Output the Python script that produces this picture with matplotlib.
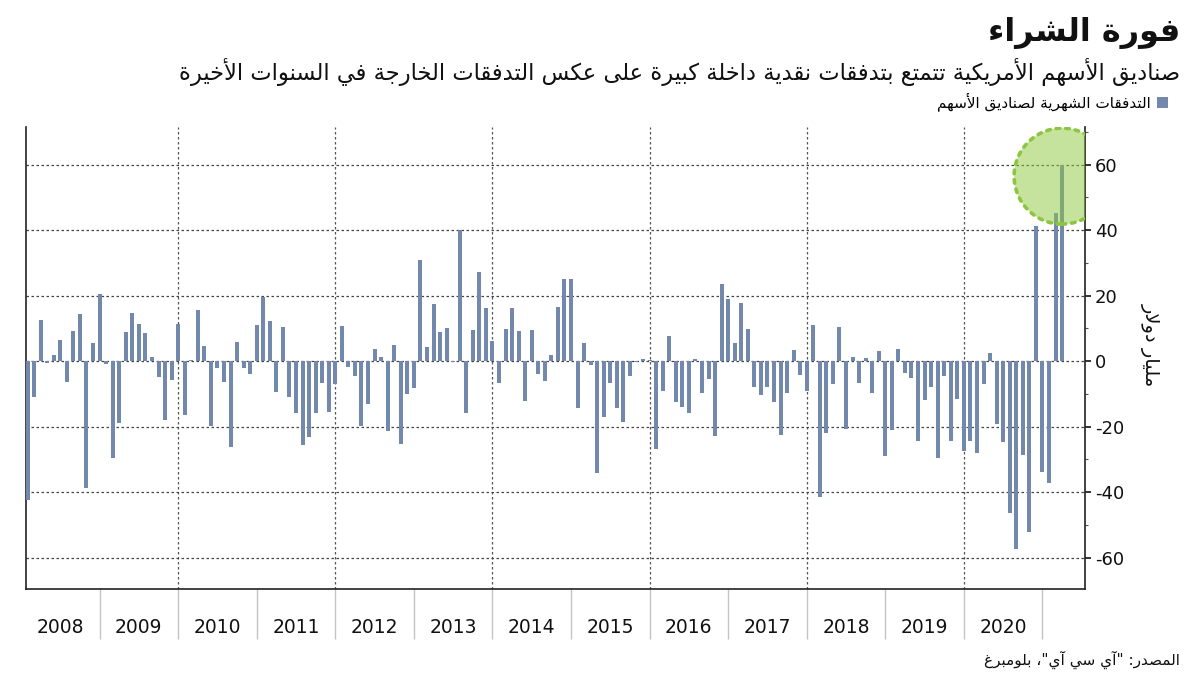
"""
US equity fund flows - monthly bar chart (Arabic labels)
"""

import numpy as np
import matplotlib

matplotlib.use("Agg")
import matplotlib.pyplot as plt
from matplotlib.ticker import MultipleLocator, NullFormatter, FixedFormatter

# Monthly flows, billion USD, Jan 2008 - Mar 2021
flows_2008 = [-42.4, -10.9, 12.6, -0.7, 2.0, 6.4, -6.5, 9.1, 14.3, -38.9, 5.6, 20.4]
flows_2009 = [-1.0, -29.7, -19.0, 8.9, 14.6, 11.2, 8.5, 1.2, -4.9, -18.1, -5.7, 11.2]
flows_2010 = [-16.5, 0.2, 15.6, 4.6, -19.7, -2.2, -6.3, -26.1, 5.9, -2.2, -3.8, 10.9]
flows_2011 = [19.6, 12.3, -9.4, 10.4, -10.9, -16.0, -25.6, -23.1, -16.0, -6.6, -15.5, -7.0]
flows_2012 = [10.7, -1.7, -4.5, -19.8, -13.2, 3.6, 1.3, -21.4, 4.9, -25.3, -10.0, -8.3]
flows_2013 = [30.8, 4.2, 17.4, 9.0, 10.2, -0.3, 40.0, -15.7, 9.5, 27.1, 16.3, 6.2]
flows_2014 = [-6.6, 9.8, 16.2, 9.1, -12.2, 9.5, -3.8, -6.1, 2.0, 16.5, 25.2, 25.2]
flows_2015 = [-14.2, 5.6, -1.2, -34.3, -17.0, -6.6, -14.4, -18.5, -4.5, -0.3, 0.7, 0.4]
flows_2016 = [-26.9, -9.0, 7.6, -12.4, -13.9, -15.7, 0.5, -9.7, -5.6, -22.9, 23.4, 19.0]
flows_2017 = [5.4, 17.8, 9.8, -8.0, -10.4, -7.8, -12.4, -22.6, -9.6, 3.3, -4.3, -9.0]
flows_2018 = [10.9, -41.4, -22.1, -7.1, 10.4, -20.8, 1.2, -6.6, 0.8, -9.6, 3.0, -28.9]
flows_2019 = [-21.1, 3.8, -3.5, -5.3, -24.4, -11.9, -7.8, -29.7, -4.5, -24.4, -11.7, -27.4]
flows_2020 = [-24.4, -28.0, -7.1, 2.6, -19.2, -24.6, -46.3, -57.4, -28.8, -52.1, 41.2, -33.8]
flows_2021 = [-37.1, 45.3, 60.0]

year_labels = [str(y) for y in range(2008, 2021)]
y_ticks = [-60, -40, -20, 0, 20, 40, 60]

TITLE = "فورة الشراء"
SUBTITLE = "صناديق الأسهم الأمريكية تتمتع بتدفقات نقدية داخلة كبيرة على عكس التدفقات الخارجة في السنوات الأخيرة"
LEGEND_LABEL = "التدفقات الشهرية لصناديق الأسهم"
Y_LABEL = "مليار دولار"
SOURCE = 'المصدر: "آي سي آي"، بلومبرغ'

BAR_COLOR = "#7289ad"
HIGHLIGHT_FILL = (140 / 255, 200 / 255, 60 / 255, 0.5)
HIGHLIGHT_EDGE = "#8cc63f"

# Arabic presentation forms (matplotlib does no shaping / bidi itself)
AR_FORMS = {
    "ء": 0xFE80, "آ": 0xFE81, "أ": 0xFE83, "ؤ": 0xFE85, "إ": 0xFE87, "ئ": 0xFE89,
    "ا": 0xFE8D, "ب": 0xFE8F, "ة": 0xFE93, "ت": 0xFE95, "ث": 0xFE99, "ج": 0xFE9D,
    "ح": 0xFEA1, "خ": 0xFEA5, "د": 0xFEA9, "ذ": 0xFEAB, "ر": 0xFEAD, "ز": 0xFEAF,
    "س": 0xFEB1, "ش": 0xFEB5, "ص": 0xFEB9, "ض": 0xFEBD, "ط": 0xFEC1, "ظ": 0xFEC5,
    "ع": 0xFEC9, "غ": 0xFECD, "ف": 0xFED1, "ق": 0xFED5, "ك": 0xFED9, "ل": 0xFEDD,
    "م": 0xFEE1, "ن": 0xFEE5, "ه": 0xFEE9, "و": 0xFEED, "ى": 0xFEEF, "ي": 0xFEF1,
}
RIGHT_ONLY = set("ءآأؤإاةدذرزوى")
LAM_ALEF = {"آ": 0xFEF5, "أ": 0xFEF7, "إ": 0xFEF9, "ا": 0xFEFB}


def shape_arabic(text):
    """Join Arabic letters into contextual forms and reverse for RTL display"""
    chars = list(text)
    n = len(chars)
    out = []
    i = 0
    while i < n:
        c = chars[i]
        if c not in AR_FORMS:
            out.append(c)
            i += 1
            continue
        prev = chars[i - 1] if i > 0 else ""
        join_prev = prev in AR_FORMS and prev not in RIGHT_ONLY
        if c == "ل" and i + 1 < n and chars[i + 1] in LAM_ALEF:
            out.append(chr(LAM_ALEF[chars[i + 1]] + (1 if join_prev else 0)))
            i += 2
            continue
        nxt = chars[i + 1] if i + 1 < n else ""
        join_next = c not in RIGHT_ONLY and nxt in AR_FORMS and nxt != "ء"
        base = AR_FORMS[c]
        if c == "ء":
            form = 0
        elif c in RIGHT_ONLY:
            form = 1 if join_prev else 0
        elif join_prev and join_next:
            form = 3
        elif join_next:
            form = 2
        elif join_prev:
            form = 1
        else:
            form = 0
        out.append(chr(base + form))
        i += 1
    return "".join(reversed(out))


plt.rcParams["font.family"] = ["DejaVu Sans"]
plt.rcParams["axes.unicode_minus"] = False

flows = np.array(
    flows_2008 + flows_2009 + flows_2010 + flows_2011 + flows_2012 + flows_2013
    + flows_2014 + flows_2015 + flows_2016 + flows_2017 + flows_2018 + flows_2019
    + flows_2020 + flows_2021
)
# bars sit at month end, in months since 1 Jan 2008
x = np.arange(1, len(flows) + 1)

fig = plt.figure(figsize=(12, 6.75), dpi=100)
ax = fig.add_axes([25.6 / 1200, 86 / 675, (1085 - 25.6) / 1200, (589 - 127) / 675])

ax.bar(x, flows, width=0.61, color=BAR_COLOR, zorder=3, label=shape_arabic(LEGEND_LABEL))

ax.set_xlim(0.7, 162.5)
ax.set_ylim(-69.6, 71.5)

# highlight on the latest month
hl = ax.scatter(
    [x[-1]], [flows[-1] - 3.5], s=4775, facecolor=HIGHLIGHT_FILL,
    edgecolor=HIGHLIGHT_EDGE, linewidth=2.6, linestyle=":", zorder=4,
)
hl.set_capstyle("round")

# spines
ax.spines["top"].set_visible(False)
for side in ["left", "right", "bottom"]:
    ax.spines[side].set_color("#222222")
    ax.spines[side].set_linewidth(1.2)

# y axis on the right
ax.yaxis.tick_right()
ax.set_yticks(y_ticks)
ax.yaxis.set_minor_locator(MultipleLocator(10))
ax.tick_params(axis="y", which="major", direction="out", length=4, width=1.2,
               labelsize=13, pad=3, colors="#111111")
ax.tick_params(axis="y", which="minor", direction="out", length=2.5, width=0.8,
               colors="#555555")
ax.yaxis.grid(True, which="major", linestyle=(0, (2, 2)), color="#444444",
              linewidth=0.9, zorder=1)

# every second year a dotted vertical line
for xv in range(24, len(flows), 24):
    ax.axvline(xv, color="#555555", linestyle=(0, (2, 2)), linewidth=0.9, zorder=1)

# x axis: long separators at year boundaries, year names in between
ax.set_xticks(np.arange(12, len(flows), 12))
ax.xaxis.set_major_formatter(NullFormatter())
ax.set_xticks(np.arange(6, 6 + 12 * len(year_labels), 12), minor=True)
ax.xaxis.set_minor_formatter(FixedFormatter(year_labels))
ax.tick_params(axis="x", which="major", direction="out", length=36, width=1,
               color="#c4c4c4")
ax.tick_params(axis="x", which="minor", length=0, pad=21, labelsize=13.5,
               labelcolor="#111111")

# titles
fig.text(1180 / 1200, 1 - 33 / 675, shape_arabic(TITLE), ha="right", va="center",
         fontsize=23, fontweight="bold", color="#111111")
fig.text(1180 / 1200, 1 - 72 / 675, shape_arabic(SUBTITLE), ha="right", va="center",
         fontsize=16.3, color="#111111")
fig.text(1150 / 1200, 1 - 345 / 675, shape_arabic(Y_LABEL), rotation=270,
         ha="center", va="center", fontsize=14, color="#111111")
fig.text(1180 / 1200, 1 - 660 / 675, shape_arabic(SOURCE), ha="right", va="center",
         fontsize=11, color="#111111")

ax.legend(loc="center right", bbox_to_anchor=(1168 / 1200, 1 - 102 / 675),
          bbox_transform=fig.transFigure, frameon=False, markerfirst=False,
          handlelength=0.7, handleheight=0.7, handletextpad=0.4, fontsize=11,
          borderaxespad=0, borderpad=0)

fig.savefig("out.png", dpi=100)
